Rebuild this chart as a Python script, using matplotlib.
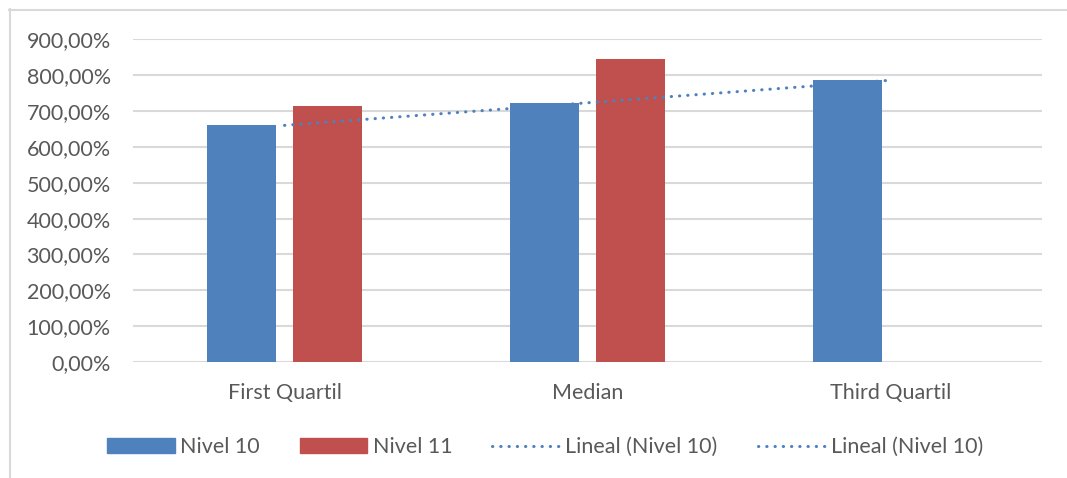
import numpy as np
import matplotlib
matplotlib.use('Agg')
import matplotlib.pyplot as plt
from matplotlib.lines import Line2D
from matplotlib.patches import Patch

plt.rcParams['font.family'] = ['Lato', 'DejaVu Sans']

categories = ['First Quartil', 'Median', 'Third Quartil']
nivel10 = [660.0, 724.0, 786.0]
nivel11 = [713.0, 846.0, np.nan]
yticks = [0, 100, 200, 300, 400, 500, 600, 700, 800, 900]

BLUE = '#4F81BD'
RED = '#C0504D'
GRID = '#D9D9D9'
TXT = '#595959'
DOTS = (0, (0.1, 2.6))

fig = plt.figure(figsize=(10.67, 4.78), dpi=100)
ax = fig.add_axes([0.1247, 0.2427, 0.8519, 0.6747])

x = np.arange(len(categories))
w, off = 0.225, 0.142
ax.bar(x - off, nivel10, w, color=BLUE, zorder=3)
ax.bar(x + off, nivel11, w, color=RED, zorder=3)

# lineal trend over Nivel 10
k, b = np.polyfit(x, nivel10, 1)
ax.plot(x, k * x + b, color=BLUE, lw=2.2, linestyle=DOTS,
        dash_capstyle='round', zorder=4)

ax.set_xlim(-0.5, 2.5)
ax.set_ylim(0, 900)
ax.set_yticks(yticks)
ax.set_yticklabels([f'{v:.2f}%'.replace('.', ',') for v in yticks])
ax.set_xticks(x)
ax.set_xticklabels(categories)
ax.tick_params(length=0, labelsize=15.5, colors=TXT)
ax.tick_params(axis='y', pad=16)
ax.tick_params(axis='x', pad=15)
ax.grid(True, axis='y', color=GRID, lw=1.5, zorder=0)
for s in ax.spines.values():
    s.set_visible(False)

trend_handle = lambda: Line2D([], [], color=BLUE, lw=2.2, linestyle=DOTS, dash_capstyle='round')
handles = [Patch(color=BLUE), Patch(color=RED), trend_handle(), trend_handle()]
labels = ['Nivel 10', 'Nivel 11', 'Lineal (Nivel 10)', 'Lineal (Nivel 10)']
leg = fig.legend(handles, labels, loc='center', bbox_to_anchor=(545 / 1067, 1 - 447 / 478),
                 ncol=4, frameon=False, fontsize=15.5, handlelength=3.15, handleheight=0.65,
                 columnspacing=1.85, handletextpad=0.25)
for t in leg.get_texts():
    t.set_color(TXT)

# chart frame
fig.add_artist(Line2D([9 / 1067, 1], [1 - 9.5 / 478] * 2, color=GRID, lw=1.5))
fig.add_artist(Line2D([9.5 / 1067] * 2, [0, 1 - 9 / 478], color=GRID, lw=1.5))

fig.savefig('out.png', dpi=100)
